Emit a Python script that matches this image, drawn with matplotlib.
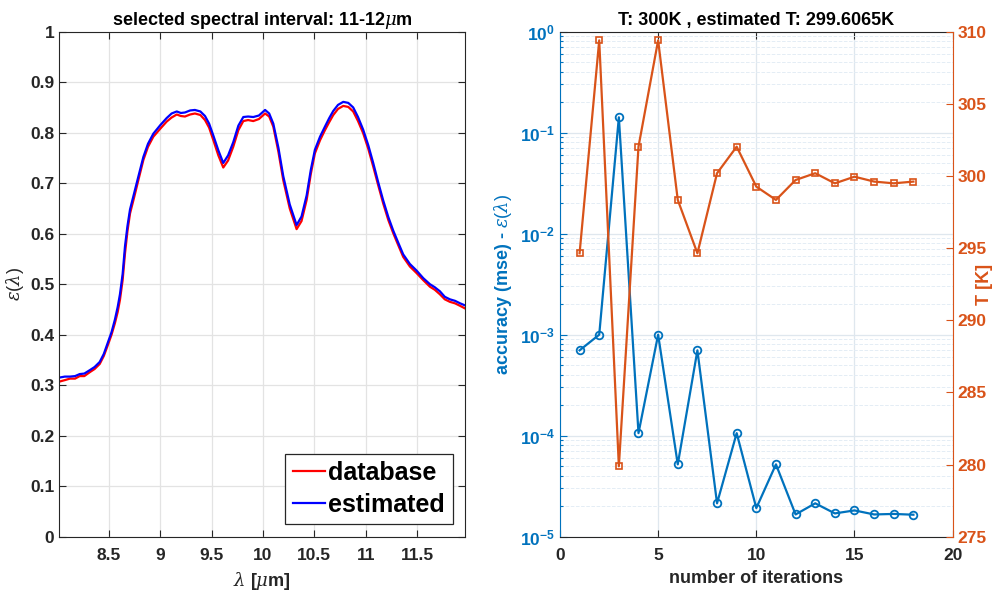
import numpy as np
import matplotlib
matplotlib.use('Agg')
from matplotlib import pyplot as plt
from matplotlib.ticker import FixedLocator, LogLocator, NullFormatter

plt.rcParams['font.family'] = ['Liberation Sans', 'DejaVu Sans']
plt.rcParams['font.weight'] = 'bold'
plt.rcParams['axes.labelweight'] = 'bold'
plt.rcParams['axes.titleweight'] = 'bold'
plt.rcParams['mathtext.fontset'] = 'custom'
plt.rcParams['mathtext.rm'] = 'Liberation Sans:weight=normal'
plt.rcParams['mathtext.bf'] = 'Liberation Sans:weight=bold'
plt.rcParams['mathtext.sf'] = 'Liberation Sans:weight=normal'
plt.rcParams['mathtext.it'] = 'DejaVu Serif:style=italic:weight=normal'

# Spectral emissivity
wavelength = [8.016, 8.07, 8.12, 8.17, 8.215, 8.26, 8.315, 8.36, 8.41, 8.45, 8.49, 8.525,
              8.558, 8.585, 8.607, 8.633, 8.656, 8.68, 8.705, 8.745, 8.786, 8.835, 8.88,
              8.932, 9.0, 9.062, 9.11, 9.16, 9.2, 9.24, 9.29, 9.337, 9.39, 9.435, 9.475,
              9.515, 9.565, 9.613, 9.66, 9.71, 9.76, 9.808, 9.855, 9.905, 9.96, 10.02,
              10.06, 10.1, 10.15, 10.197, 10.26, 10.327, 10.375, 10.425, 10.465, 10.505,
              10.555, 10.603, 10.645, 10.684, 10.73, 10.781, 10.83, 10.878, 10.925, 10.975,
              11.025, 11.073, 11.12, 11.17, 11.22, 11.268, 11.315, 11.365, 11.43, 11.495,
              11.56, 11.625, 11.672, 11.722, 11.77, 11.82, 11.87, 11.92, 11.967]
eps_database = [0.307, 0.310, 0.313, 0.313, 0.318, 0.318, 0.326, 0.332, 0.342, 0.358, 0.380,
                0.400, 0.423, 0.445, 0.469, 0.508, 0.561, 0.605, 0.640, 0.672, 0.706, 0.746,
                0.772, 0.792, 0.808, 0.822, 0.830, 0.836, 0.833, 0.832, 0.836, 0.838, 0.835,
                0.825, 0.810, 0.786, 0.755, 0.731, 0.745, 0.772, 0.805, 0.823, 0.825, 0.823,
                0.827, 0.838, 0.832, 0.812, 0.762, 0.706, 0.650, 0.609, 0.625, 0.667, 0.718,
                0.759, 0.785, 0.805, 0.821, 0.835, 0.847, 0.853, 0.851, 0.842, 0.823, 0.799,
                0.768, 0.733, 0.697, 0.660, 0.627, 0.601, 0.578, 0.554, 0.535, 0.522, 0.508,
                0.495, 0.489, 0.480, 0.470, 0.465, 0.462, 0.457, 0.452]
eps_estimated = [0.315, 0.317, 0.317, 0.318, 0.322, 0.323, 0.330, 0.336, 0.346, 0.362, 0.385,
                 0.405, 0.430, 0.455, 0.480, 0.520, 0.575, 0.615, 0.648, 0.680, 0.713, 0.752,
                 0.778, 0.798, 0.815, 0.829, 0.838, 0.842, 0.839, 0.840, 0.844, 0.845, 0.842,
                 0.833, 0.818, 0.795, 0.765, 0.740, 0.755, 0.781, 0.814, 0.831, 0.832, 0.831,
                 0.834, 0.845, 0.838, 0.818, 0.770, 0.714, 0.658, 0.617, 0.634, 0.676, 0.726,
                 0.766, 0.792, 0.812, 0.829, 0.843, 0.855, 0.861, 0.859, 0.850, 0.831, 0.806,
                 0.775, 0.740, 0.703, 0.666, 0.633, 0.606, 0.583, 0.559, 0.540, 0.527, 0.512,
                 0.500, 0.494, 0.486, 0.475, 0.470, 0.467, 0.462, 0.458]

# Convergence per iteration
iterations = list(range(1, 19))
accuracy = [7.0e-4, 1.0e-3, 1.42e-1, 1.06e-4, 1.0e-3, 5.2e-5, 7.0e-4, 2.14e-5, 1.06e-4,
            1.92e-5, 5.2e-5, 1.66e-5, 2.14e-5, 1.70e-5, 1.82e-5, 1.66e-5, 1.68e-5, 1.65e-5]
temperature = [294.64, 309.4, 279.88, 302.03, 309.4, 298.34, 294.64, 300.19, 302.03,
               299.26, 298.34, 299.72, 300.19, 299.49, 299.95, 299.61, 299.49, 299.61]

dark = '#262626'
blue = '#0072BD'
orange = '#D95319'
tick_fs = 12.5

fig = plt.figure(figsize=(9.96, 5.91), dpi=100)

# ---- left panel: emissivity
ax1 = fig.add_axes([0.0595, 0.0919, 0.4074, 0.8545])
ax1.plot(wavelength, eps_database, color='#FF0000', lw=1.6, label='database')
ax1.plot(wavelength, eps_estimated, color='#0000FF', lw=1.6, label='estimated')
ax1.set_xlim(8.016, 11.967)
ax1.set_ylim(0, 1)
ax1.set_xticks([8.5, 9, 9.5, 10, 10.5, 11, 11.5])
ax1.set_xticklabels(['8.5', '9', '9.5', '10', '10.5', '11', '11.5'])
ax1.set_yticks(np.arange(0, 11) / 10)
ax1.set_yticklabels(['0', '0.1', '0.2', '0.3', '0.4', '0.5', '0.6', '0.7', '0.8', '0.9', '1'])
ax1.grid(True, color='#e3e3e3', lw=0.9)
ax1.set_axisbelow(True)
ax1.tick_params(direction='in', top=True, right=True, labelsize=tick_fs, colors=dark,
                length=5, width=0.8)
ax1.tick_params(axis='x', pad=8)
for s in ax1.spines.values():
    s.set_color(dark)
ax1.set_title(r'selected spectral interval: 11-12$\mu$m', fontsize=13, pad=5)
ax1.set_xlabel(r'$\lambda$ [$\mu$m]', fontsize=13, color=dark, labelpad=5)
ax1.set_ylabel(r'$\epsilon(\lambda)$', fontsize=13, color=dark, labelpad=3)
leg = ax1.legend(loc='lower right', fontsize=18, handlelength=1.3, handletextpad=0.12,
                 borderpad=0.3, labelspacing=0.3, fancybox=False, framealpha=1,
                 edgecolor=dark, borderaxespad=0.5)
leg.get_frame().set_linewidth(0.9)
for t in leg.get_texts():
    t.set_fontweight('bold')

# ---- right panel: accuracy and temperature
ax2 = fig.add_axes([0.5622, 0.0919, 0.3943, 0.8545])
ax2.set_yscale('log')
ax2.plot(iterations, accuracy, color=blue, lw=1.6, marker='o', ms=5.5, mfc='none', mew=1.3)
ax2.set_xlim(0, 20)
ax2.set_ylim(1e-5, 1)
ax2.set_xticks([0, 5, 10, 15, 20])
ax2.yaxis.set_major_locator(FixedLocator([1e-5, 1e-4, 1e-3, 1e-2, 1e-1, 1]))
ax2.set_yticklabels([r'$\mathbf{10^{-5}}$', r'$\mathbf{10^{-4}}$', r'$\mathbf{10^{-3}}$',
                     r'$\mathbf{10^{-2}}$', r'$\mathbf{10^{-1}}$', r'$\mathbf{10^{0}}$'])
ax2.yaxis.set_minor_locator(LogLocator(base=10, subs=np.arange(2, 10), numticks=20))
ax2.yaxis.set_minor_formatter(NullFormatter())
ax2.grid(True, which='major', color='#dfe7ee', lw=0.9)
ax2.grid(True, which='minor', axis='y', color='#e4edf5', lw=0.7, ls='--')
ax2.set_axisbelow(True)
ax2.tick_params(axis='x', direction='in', top=True, labelsize=tick_fs, colors=dark,
                length=5, width=0.8, pad=8)
ax2.tick_params(axis='y', which='both', direction='in', labelsize=tick_fs, colors=blue,
                length=5, width=0.8)
ax2.tick_params(axis='y', which='minor', length=2.5)
ax2.spines['left'].set_color(blue)
ax2.spines['top'].set_color(dark)
ax2.spines['bottom'].set_color(dark)
ax2.spines['right'].set_visible(False)
ax2.set_xlabel('number of iterations', fontsize=13, color=dark, labelpad=5)
ax2.set_ylabel(r'accuracy (mse) - $\epsilon(\lambda)$', fontsize=13, color=blue, labelpad=4)
ax2.set_title('T: 300K , estimated T: 299.6065K', fontsize=13, pad=5)

ax3 = ax2.twinx()
ax3.plot(iterations, temperature, color=orange, lw=1.6, marker='s', ms=5, mfc='none', mew=1.2)
ax3.set_ylim(275, 310)
ax3.set_yticks([275, 280, 285, 290, 295, 300, 305, 310])
ax3.tick_params(axis='y', direction='in', labelsize=tick_fs, colors=orange, length=5, width=0.8)
for side in ['left', 'top', 'bottom']:
    ax3.spines[side].set_visible(False)
ax3.spines['right'].set_color(orange)
ax3.set_ylabel('T [K]', fontsize=13, color=orange)
ax3.yaxis.set_label_coords(1.059, 0.5)

fig.savefig('out.png', dpi=100)
